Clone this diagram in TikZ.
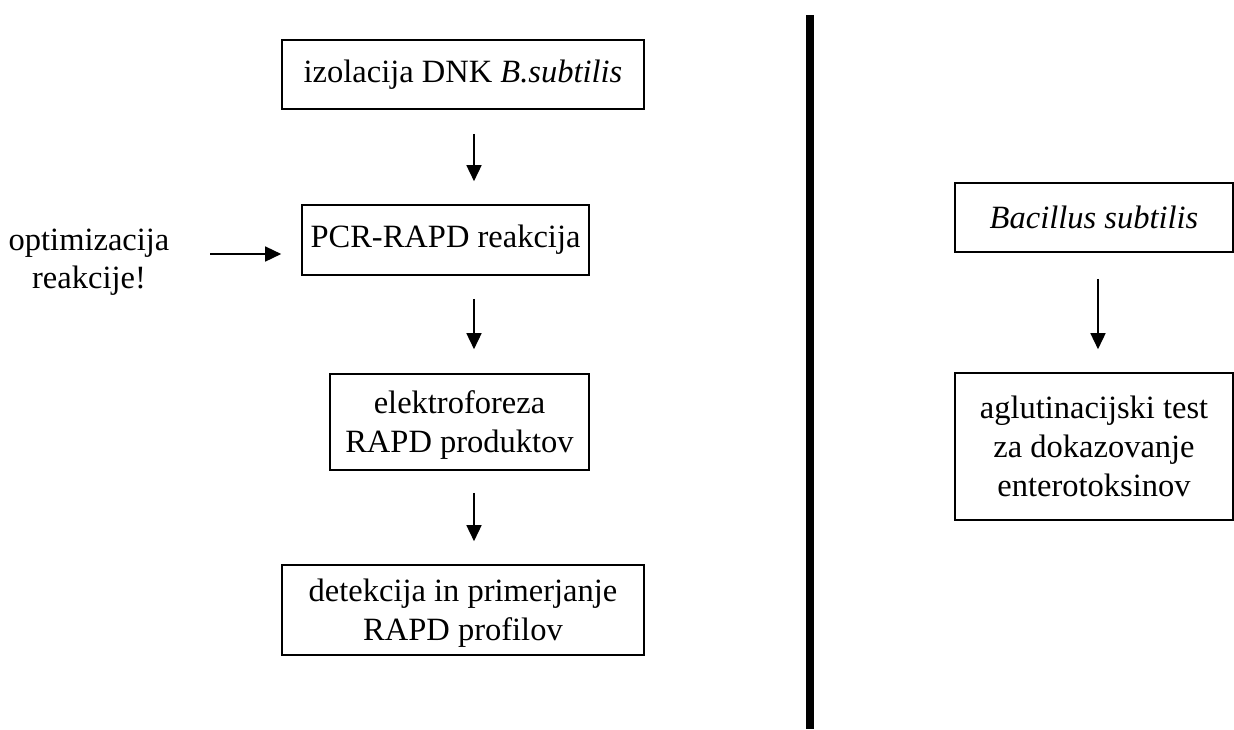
\documentclass[tikz,border=0pt]{standalone}
\usepackage{fontspec}
\setmainfont{Liberation Serif}
\usetikzlibrary{arrows.meta,calc}
\tikzset{
  box/.style={draw, line width=1.6pt, inner sep=0pt, align=center, font=\fontsize{32.5}{39}\selectfont},
  multibox/.style={box, text depth=-11pt},
  lbl/.style={inner sep=0pt, align=center, font=\fontsize{32.5}{38.5}\selectfont},
  arr/.style={line width=1.5pt, -{Triangle[length=16pt,width=15pt]}},
  divider/.style={line width=8pt}
}
\begin{document}
\begin{tikzpicture}[x=1pt,y=-1pt]
\useasboundingbox (0,0) rectangle (1234,729);
\node[box, minimum width=362pt, minimum height=69pt] (B1) at (463,74.5) {izolacija DNK \textit{B.subtilis}};
\node[box, minimum width=287pt, minimum height=70pt] (B2) at (445.5,240) {PCR-RAPD reakcija};
\node[multibox, minimum width=259pt, minimum height=96pt] (B3) at (459.5,422) {elektroforeza\\RAPD produktov};
\node[multibox, minimum width=362pt, minimum height=90pt] (B4) at (463,610) {detekcija in primerjanje\\RAPD profilov};
\node[lbl] (L) at (89,262) {optimizacija\\reakcije!};
\node[box, minimum width=278pt, minimum height=69pt] (R1) at (1094,217.5) {\textit{Bacillus subtilis}};
\node[multibox, minimum width=278pt, minimum height=147pt] (R2) at (1094,446.5) {aglutinacijski test\\za dokazovanje\\enterotoksinov};
\coordinate (ax) at (474,0);
\coordinate (rx) at (1098,0);
\coordinate (ly) at (0,254);
\coordinate (lstart) at (210,254);
\coordinate (dtop) at (810,15);
\coordinate (dbot) at (810,729);
\draw[arr, shorten <=24pt, shorten >=23pt] (B1.south -| ax) -- (B2.north -| ax);
\draw[arr, shorten <=23pt, shorten >=24pt] (B2.south -| ax) -- (B3.north -| ax);
\draw[arr, shorten <=22pt, shorten >=23pt] (B3.south -| ax) -- (B4.north -| ax);
\draw[arr, shorten <=26pt, shorten >=23pt] (R1.south -| rx) -- (R2.north -| rx);
\draw[arr, shorten >=20pt] (lstart) -- (B2.west |- ly);
\draw[divider] (dtop) -- (dbot);
\end{tikzpicture}
\end{document}
